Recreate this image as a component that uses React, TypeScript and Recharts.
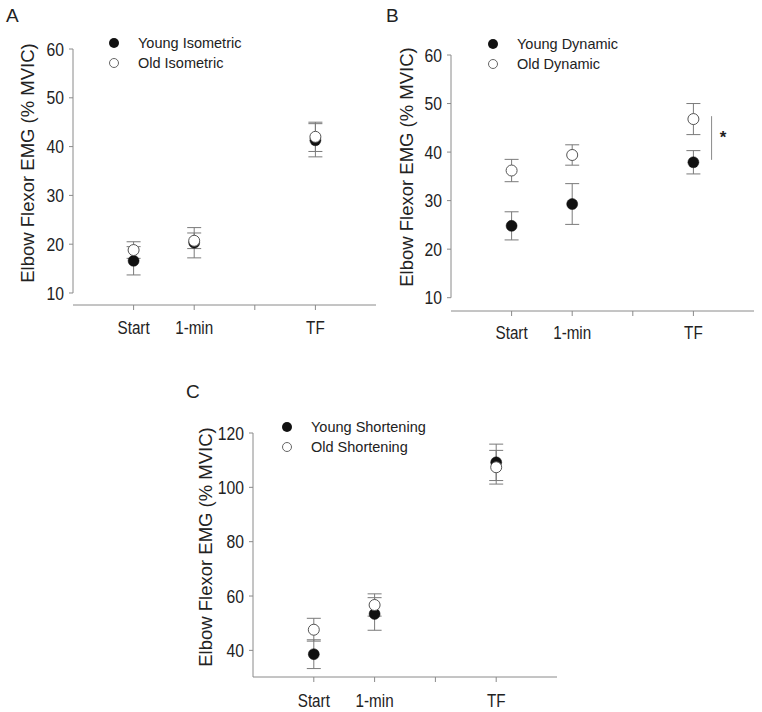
import React from 'react';
import {
  ScatterChart,
  Scatter,
  XAxis,
  YAxis,
  ErrorBar,
  ReferenceLine,
  ReferenceDot,
} from 'recharts';

// time points on the x axis (3 is an unlabeled tick)
const timePoints = [1, 2, 4];
const xTicks = [1, 2, 3, 4];
const xTickLabels = ['Start', '1-min', '', 'TF'];

// Panel A - isometric
const youngIsometric = [16.6, 20.3, 41.3];
const youngIsometricErr = [2.9, 3.1, 3.4];
const oldIsometric = [18.8, 20.7, 42.0];
const oldIsometricErr = [1.7, 1.6, 3.0];

// Panel B - dynamic
const youngDynamic = [24.8, 29.3, 37.9];
const youngDynamicErr = [2.9, 4.2, 2.4];
const oldDynamic = [36.2, 39.4, 46.8];
const oldDynamicErr = [2.3, 2.1, 3.2];

// Panel C - shortening
const youngShortening = [38.6, 53.4, 109.2];
const youngShorteningErr = [5.3, 6.0, 6.7];
const oldShortening = [47.6, 56.7, 107.4];
const oldShorteningErr = [4.2, 4.1, 6.2];

const FONT = '"Liberation Sans", Arial, Helvetica, sans-serif';
const AXIS = '#8a8a8a';
const ERR = '#7a7a7a';
const TEXT = '#222';

function rows(values: number[], errs: number[]) {
  return timePoints.map((t, i) => ({ x: t, y: values[i], err: errs[i] }));
}

const FilledDot = (props: any) => (
  <circle cx={props.cx} cy={props.cy} r={5.5} fill="#111" stroke="#111" strokeWidth={0.5} />
);
const OpenDot = (props: any) => (
  <circle cx={props.cx} cy={props.cy} r={5.5} fill="#fff" stroke="#555" strokeWidth={1} />
);

// the figure's text is slightly condensed, so ticks are squeezed horizontally
const XTick = (props: any) => (
  <g transform={`translate(${props.x},${props.y})`}>
    <text transform="scale(0.87,1)" textAnchor="middle" dy="0.71em" fontSize={17.5} fill={TEXT} fontFamily={FONT}>
      {xTickLabels[props.payload.value - 1]}
    </text>
  </g>
);
const YTick = (props: any) => (
  <g transform={`translate(${props.x},${props.y})`}>
    <text transform="scale(0.85,1)" textAnchor="end" dy="0.355em" fontSize={18.5} fill={TEXT} fontFamily={FONT}>
      {props.payload.value}
    </text>
  </g>
);

interface PanelProps {
  left: number;
  top: number;
  width: number;
  height: number;
  margin: { top: number; right: number; bottom: number; left: number };
  xAxisHeight: number;
  tickMargin: number;
  yDomain: [number, number];
  yTicks: number[];
  detachedY: boolean;
  young: { x: number; y: number; err: number }[];
  old: { x: number; y: number; err: number }[];
  children?: React.ReactNode;
}

function Panel(p: PanelProps) {
  return (
    <div style={{ position: 'absolute', left: p.left, top: p.top, width: p.width, height: p.height }}>
      <ScatterChart width={p.width} height={p.height} margin={p.margin} style={{ fontFamily: FONT }}>
        <XAxis
          type="number"
          dataKey="x"
          domain={[0, 5]}
          ticks={xTicks}
          interval={0}
          height={p.xAxisHeight}
          tickSize={5}
          tickMargin={p.tickMargin}
          stroke={AXIS}
          tick={XTick}
        />
        <YAxis
          type="number"
          dataKey="y"
          domain={p.yDomain}
          ticks={p.yTicks}
          interval={0}
          width={50}
          tickSize={4}
          tickMargin={5}
          axisLine={!p.detachedY}
          stroke={AXIS}
          tick={YTick}
        />
        {p.detachedY && (
          <ReferenceLine
            segment={[
              { x: 0, y: p.yTicks[0] },
              { x: 0, y: p.yTicks[p.yTicks.length - 1] },
            ]}
            stroke={AXIS}
            strokeWidth={1}
            ifOverflow="visible"
          />
        )}
        <Scatter data={p.young} shape={FilledDot} isAnimationActive={false}>
          <ErrorBar dataKey="err" direction="y" width={7} stroke={ERR} strokeWidth={1} isAnimationActive={false} />
        </Scatter>
        <Scatter data={p.old} shape={OpenDot} isAnimationActive={false}>
          <ErrorBar dataKey="err" direction="y" width={7} stroke={ERR} strokeWidth={1} isAnimationActive={false} />
        </Scatter>
        {p.children}
      </ScatterChart>
    </div>
  );
}

function Legend2({ x, y, names }: { x: number; y: number; names: [string, string] }) {
  return (
    <g>
      <circle cx={x} cy={y} r={5} fill="#111" />
      <text x={x + 24} y={y} dominantBaseline="central" fontSize={14.5} fill={TEXT}>
        {names[0]}
      </text>
      <circle cx={x} cy={y + 20} r={4.5} fill="#fff" stroke="#666" strokeWidth={1} />
      <text x={x + 24} y={y + 20} dominantBaseline="central" fontSize={14.5} fill={TEXT}>
        {names[1]}
      </text>
    </g>
  );
}

function YLabel({ x, y }: { x: number; y: number }) {
  return (
    <text
      transform={`translate(${x},${y}) rotate(-90)`}
      textAnchor="middle"
      dominantBaseline="central"
      fontSize={18.5}
      fill={TEXT}
    >
      Elbow Flexor EMG (% MVIC)
    </text>
  );
}

export default function App() {
  return (
    <div style={{ position: 'absolute', left: 0, top: 0, width: 762, height: 712, background: '#fff', fontFamily: FONT }}>
      <Panel
        left={0}
        top={0}
        width={380}
        height={345}
        margin={{ top: 49, right: 4, bottom: 0, left: 23 }}
        xAxisHeight={40}
        tickMargin={12}
        yDomain={[7.54, 60]}
        yTicks={[10, 20, 30, 40, 50, 60]}
        detachedY
        young={rows(youngIsometric, youngIsometricErr)}
        old={rows(oldIsometric, oldIsometricErr)}
      />
      <Panel
        left={380}
        top={0}
        width={382}
        height={350}
        margin={{ top: 55, right: 8, bottom: 0, left: 21 }}
        xAxisHeight={39}
        tickMargin={11}
        yDomain={[7.26, 60]}
        yTicks={[10, 20, 30, 40, 50, 60]}
        detachedY
        young={rows(youngDynamic, youngDynamicErr)}
        old={rows(oldDynamic, oldDynamicErr)}
      >
        <ReferenceLine
          segment={[
            { x: 4.3, y: 38.4 },
            { x: 4.3, y: 47.4 },
          ]}
          stroke={AXIS}
          strokeWidth={1}
        />
        <ReferenceDot
          x={4.49}
          y={42.9}
          r={0}
          shape={(s: any) => (
            <text x={s.cx} y={s.cy + 5} textAnchor="middle" fontSize={17} fontWeight="bold" fill={TEXT} fontFamily={FONT}>
              *
            </text>
          )}
        />
      </Panel>
      <Panel
        left={180}
        top={380}
        width={400}
        height={332}
        margin={{ top: 53, right: 23, bottom: 0, left: 23 }}
        xAxisHeight={35}
        tickMargin={13}
        yDomain={[30.2, 120]}
        yTicks={[40, 60, 80, 100, 120]}
        detachedY={false}
        young={rows(youngShortening, youngShorteningErr)}
        old={rows(oldShortening, oldShorteningErr)}
      />
      <svg
        width={762}
        height={712}
        style={{ position: 'absolute', left: 0, top: 0, pointerEvents: 'none', fontFamily: FONT }}
      >
        <text x={6} y={21.7} fontSize={19} fill={TEXT}>A</text>
        <text x={386} y={21.7} fontSize={19} fill={TEXT}>B</text>
        <text x={186} y={398.3} fontSize={19} fill={TEXT}>C</text>
        <YLabel x={27} y={163} />
        <YLabel x={406} y={167} />
        <YLabel x={205} y={547} />
        <Legend2 x={114} y={43} names={['Young Isometric', 'Old Isometric']} />
        <Legend2 x={493} y={44} names={['Young Dynamic', 'Old Dynamic']} />
        <Legend2 x={287} y={427} names={['Young Shortening', 'Old Shortening']} />
      </svg>
    </div>
  );
}
